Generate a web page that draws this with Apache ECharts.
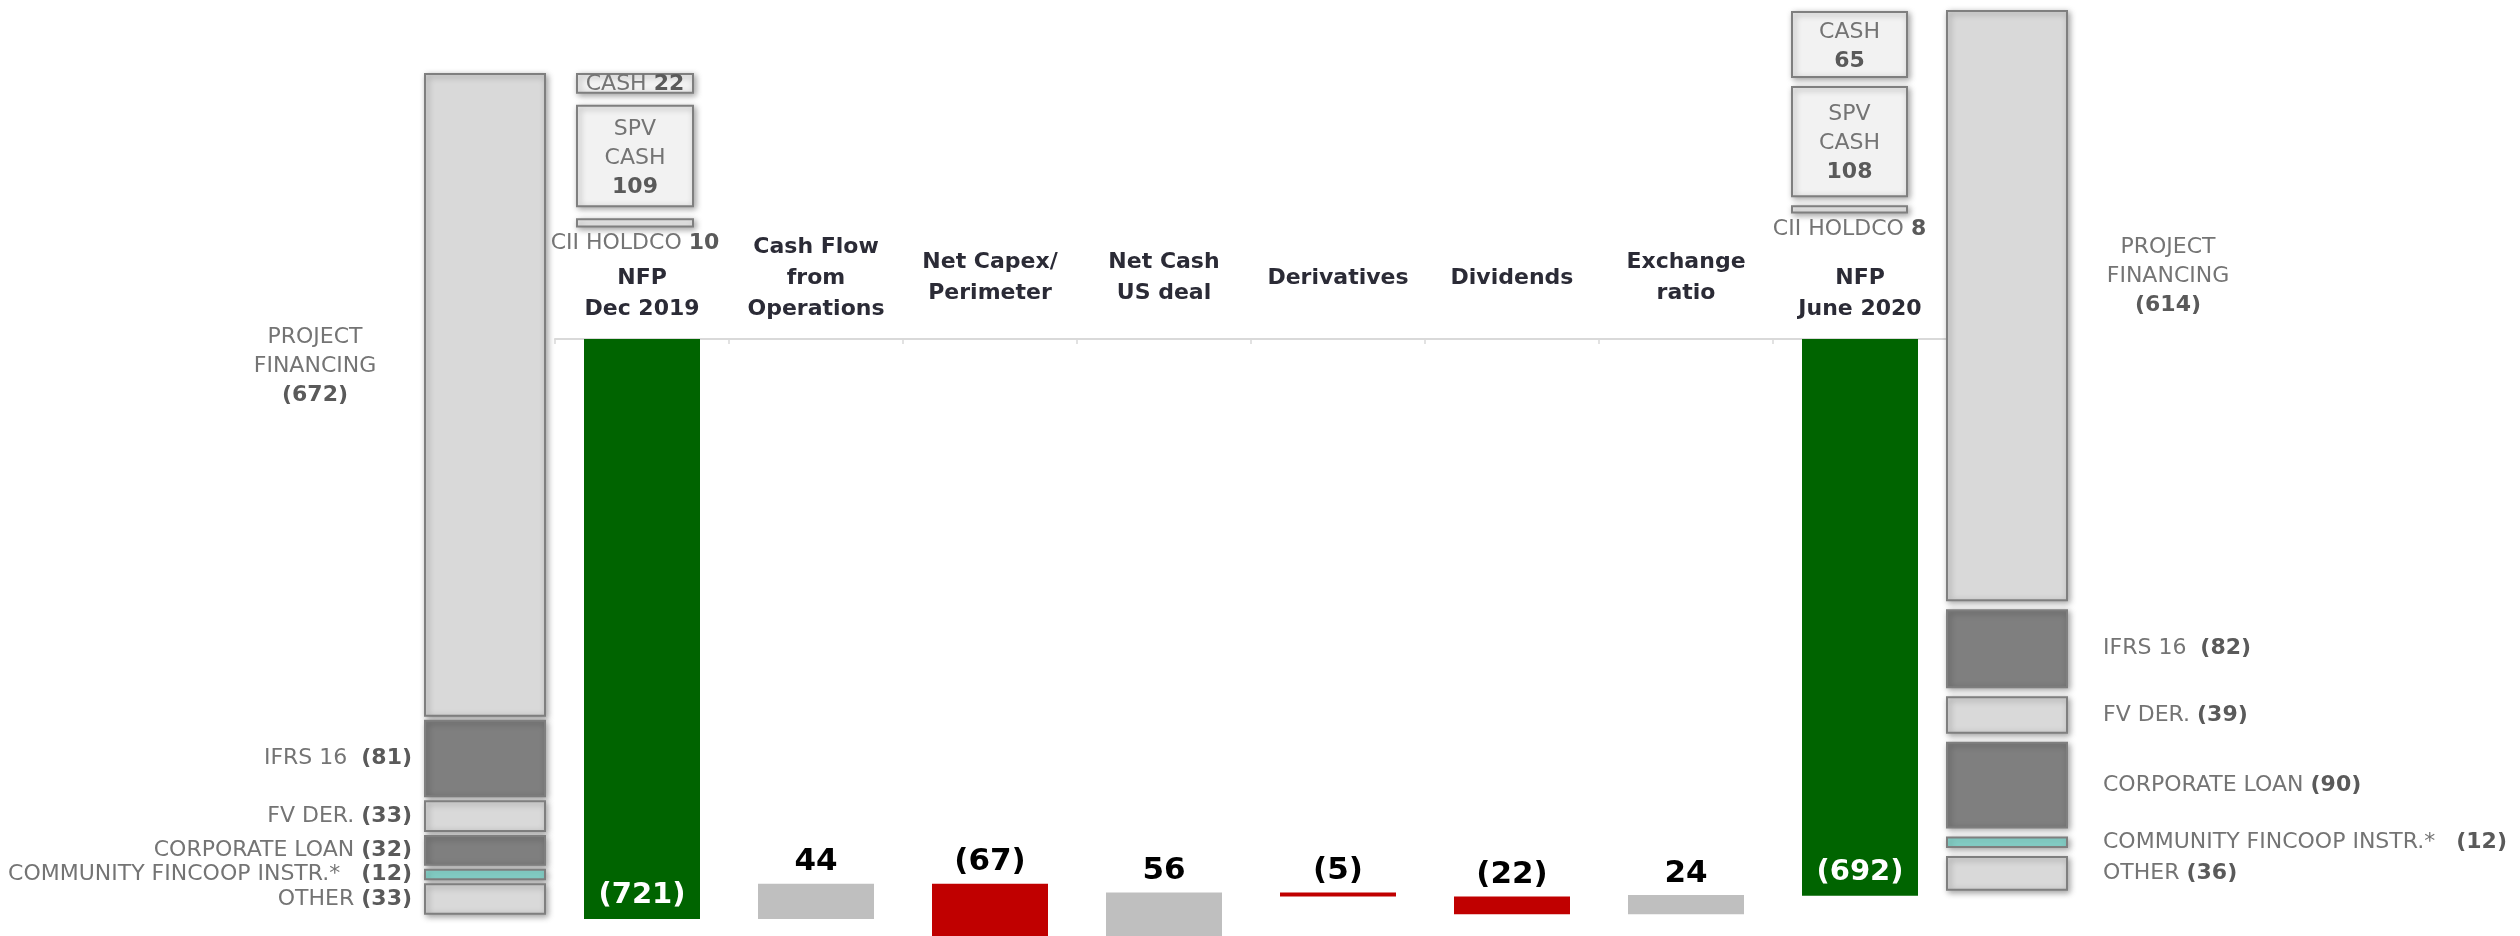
<!DOCTYPE html>
<html>
<head>
<meta charset="utf-8">
<script src="https://cdn.jsdelivr.net/npm/echarts@6/dist/echarts.min.js"></script>
<style>
  html, body { margin: 0; padding: 0; background: #ffffff; }
  #chart { width: 2520px; height: 936px; }
</style>
</head>
<body>
<div id="chart"></div>
<script>
// ---- Net financial position bridge, Dec 2019 -> June 2020 (EUR m) ----
const categories = [
  'NFP\nDec 2019', 'Cash Flow\nfrom\nOperations', 'Net Capex/\nPerimeter', 'Net Cash\nUS deal',
  'Derivatives', 'Dividends', 'Exchange\nratio', 'NFP\nJune 2020'
];
const nfpOpen = -721;
const nfpClose = -692;
const movements = [44, -67, 56, -5, -22, 24];

// Gross debt breakdown (shown as negatives in brackets)
const debtNames = ['PROJECT FINANCING', 'IFRS 16 ', 'FV DER.', 'CORPORATE LOAN', 'COMMUNITY FINCOOP INSTR.*  ', 'OTHER'];
const debtDec = [672, 81, 33, 32, 12, 33];
const debtJun = [614, 82, 39, 90, 12, 36];

// Cash breakdown
const cashNames = ['CASH', 'SPV CASH', 'CII HOLDCO'];
const cashDec = [22, 109, 10];
const cashJun = [65, 108, 8];

// ---- styling ----
const GREEN = '#006400', RED = '#c00000', UP = '#bfbfbf';
const TXT = '#747474', TXT_B = '#5a5a5a';
const debtFill = ['#d9d9d9', '#7f7f7f', '#d9d9d9', '#7f7f7f', '#8ad8cf', '#d9d9d9'];
const SIDE_FONT = '"DejaVu Sans", sans-serif';
const richSide = {
  t: { fontFamily: SIDE_FONT, fontSize: 22, color: TXT, fill: TXT, lineHeight: 29 },
  b: { fontFamily: SIDE_FONT, fontSize: 22, fontWeight: 'bold', color: TXT_B, fill: TXT_B, lineHeight: 29 }
};
const fmtNeg = v => '(' + v + ')';

// ---- waterfall levels ----
const levels = [nfpOpen];
movements.forEach(m => levels.push(levels[levels.length - 1] + m));
const last = categories.length - 1;
const baseVals = categories.map((c, i) =>
  (i === 0 || i === last) ? '-' : Math.max(levels[i - 1], levels[i]));
const moveVals = categories.map((c, i) => {
  if (i === 0 || i === last) return '-';
  const m = movements[i - 1];
  return { value: -Math.abs(m), itemStyle: { color: m >= 0 ? UP : RED } };
});
const nfpVals = categories.map((c, i) => i === 0 ? nfpOpen : (i === last ? nfpClose : '-'));

// ---- side stacks: each one gets its own small grid ----
// left / width / top in px, px per unit, gap between boxes
const stacks = [
  { key: 'debtDec', values: debtDec, names: debtNames, left: 424, width: 122, top: 73, ppu: 0.958, gap: 3, kind: 'debt', side: 'left' },
  { key: 'cashDec', values: cashDec, names: cashNames, left: 576, width: 118, top: 73, ppu: 0.94, gap: 11, kind: 'cash' },
  { key: 'cashJun', values: cashJun, names: cashNames, left: 1791, width: 117, top: 11, ppu: 1.03, gap: 8, kind: 'cash' },
  { key: 'debtJun', values: debtJun, names: debtNames, left: 1946, width: 122, top: 10, ppu: 0.963, gap: 8, kind: 'debt', side: 'right' }
];

const grids = [{ left: 555, top: 339, width: 1392, height: 597 }];
const xAxes = [{
  type: 'category', data: categories, position: 'top', gridIndex: 0,
  axisLine: { lineStyle: { color: '#d9d9d9', width: 2 } },
  axisTick: { show: true, inside: true, length: 5, lineStyle: { color: '#d9d9d9', width: 1.5 } },
  axisLabel: {
    interval: 0, margin: 61, verticalAlign: 'middle',
    fontFamily: '"DejaVu Sans", sans-serif', fontWeight: 'bold', fontSize: 22,
    color: '#2b2b36', lineHeight: 31,
    formatter: v => v.startsWith('NFP') ? '\n' + v : v
  }
}];
const yAxes = [{ type: 'value', min: -742, max: 0, gridIndex: 0, show: false, splitLine: { show: false } }];

const series = [
  {
    name: 'base', type: 'bar', stack: 'w', data: baseVals, barWidth: 116, barGap: '-100%',
    itemStyle: { color: 'transparent' }, silent: true
  },
  {
    name: 'movement', type: 'bar', stack: 'w', data: moveVals, barWidth: 116, barGap: '-100%',
    label: {
      show: true, position: 'top', distance: 6,
      fontFamily: '"DejaVu Sans", sans-serif', fontWeight: 'bold', fontSize: 31, color: '#000',
      formatter: p => { const m = movements[p.dataIndex - 1]; return m < 0 ? fmtNeg(-m) : String(m); }
    }
  },
  {
    name: 'NFP', type: 'bar', data: nfpVals, barWidth: 116, barGap: '-100%',
    itemStyle: { color: GREEN },
    label: {
      show: true, position: 'insideBottom', distance: 9,
      fontFamily: '"DejaVu Sans", sans-serif', fontWeight: 'bold', fontSize: 29, color: '#fff',
      formatter: p => fmtNeg(-p.value)
    }
  }
];

stacks.forEach((s, k) => {
  const gi = k + 1;
  const total = s.values.reduce((a, b) => a + b, 0);
  grids.push({ left: s.left, width: s.width, top: s.top, height: total * s.ppu });
  xAxes.push({ type: 'category', data: [s.key], gridIndex: gi, show: false });
  yAxes.push({ type: 'value', gridIndex: gi, min: 0, max: total, inverse: true, show: false });

  const starts = [];
  let acc = 0;
  s.values.forEach(v => { starts.push(acc); acc += v; });

  series.push({
    type: 'custom', xAxisIndex: gi, yAxisIndex: gi, silent: true,
    data: s.values.map((v, i) => [0, starts[i], starts[i] + v, i]),
    renderItem(params, api) {
      const i = api.value(3);
      const p0 = api.coord([0, api.value(1)]);
      const p1 = api.coord([0, api.value(2)]);
      const w = api.size([1, 0])[0];
      const x = p0[0] - w / 2;
      const y0 = p0[1] + i * s.gap;
      const y1 = p1[1] + i * s.gap;
      const h = Math.max(y1 - y0, 2);
      const val = s.values[i];
      const name = s.names[i];
      const children = [];
      const fill = s.kind === 'cash' ? '#f2f2f2' : debtFill[i];
      children.push({
        type: 'rect',
        shape: { x: x + 1, y: y0 + 1, width: w - 2, height: h - 2 },
        style: {
          fill, stroke: '#7f7f7f', lineWidth: 2,
          shadowBlur: 6, shadowColor: 'rgba(0,0,0,0.35)', shadowOffsetX: 2, shadowOffsetY: 2
        }
      });
      let text, tx, ty, align = 'center';
      if (s.kind === 'cash') {
        tx = x + w / 2;
        if (h < 15) {
          text = '{t|' + name + '} {b|' + val + '}';
          ty = y0 + h + 16;
        } else if (h < 40) {
          text = '{t|' + name + '} {b|' + val + '}';
          ty = y0 + h / 2 + 1;
        } else {
          text = name.split(' ').map(wd => '{t|' + wd + '}').join('\n') + '\n{b|' + val + '}';
          ty = y0 + h / 2 + 2;
        }
      } else if (i === 0) {
        text = name.split(' ').map(wd => '{t|' + wd + '}').join('\n') + '\n{b|' + fmtNeg(val) + '}';
        tx = s.side === 'left' ? x - 109 : x + w + 100;
        ty = y0 + h / 2 - 29;
      } else {
        text = '{t|' + name + '} {b|' + fmtNeg(val) + '}';
        if (s.side === 'left') { tx = x - 12; align = 'right'; }
        else { tx = x + w + 35; align = 'left'; }
        ty = y0 + h / 2;
      }
      children.push({
        type: 'text', x: tx, y: ty,
        style: { text, align, verticalAlign: 'middle', rich: richSide, fontFamily: SIDE_FONT, fontSize: 22, fill: TXT }
      });
      return { type: 'group', children };
    }
  });
});

const chart = echarts.init(document.getElementById('chart'), null, { renderer: 'canvas' });
chart.setOption({
  animation: false,
  backgroundColor: '#ffffff',
  grid: grids,
  xAxis: xAxes,
  yAxis: yAxes,
  series
});
</script>
</body>
</html>
